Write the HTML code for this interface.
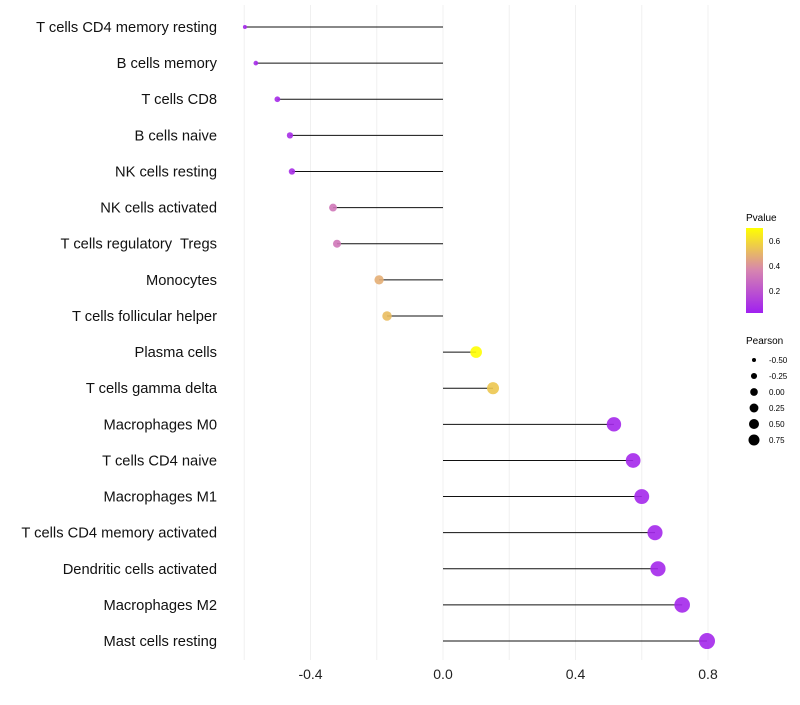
<!DOCTYPE html>
<html><head><meta charset="utf-8"><style>
body{margin:0;background:#fff;font-family:"Liberation Sans",sans-serif}
</style></head><body>
<svg id="c" width="800" height="700" xmlns="http://www.w3.org/2000/svg">
<defs><linearGradient id="pg" x1="0" y1="1" x2="0" y2="0">
<stop offset="0" stop-color="#A020F0"/><stop offset="0.5" stop-color="#D684B0"/><stop offset="1" stop-color="#FFFF00"/></linearGradient></defs>
<g id="grid"></g><g id="marks"></g><g id="labels"></g>
<g>
<text x="746" y="221" font-size="10">Pvalue</text>
<rect x="746" y="228" width="17" height="85" fill="url(#pg)"/>
<text x="769" y="244" font-size="8">0.6</text>
<text x="769" y="269" font-size="8">0.4</text>
<text x="769" y="294" font-size="8">0.2</text>
</g>
<g id="sizeleg">
<text x="746" y="344" font-size="10">Pearson</text>
</g>
</svg>
<script>
const categories=["T cells CD4 memory resting","B cells memory","T cells CD8","B cells naive","NK cells resting","NK cells activated","T cells regulatory  Tregs","Monocytes","T cells follicular helper","Plasma cells","T cells gamma delta","Macrophages M0","T cells CD4 naive","Macrophages M1","T cells CD4 memory activated","Dendritic cells activated","Macrophages M2","Mast cells resting"];
const pearson=[-0.598,-0.565,-0.50,-0.462,-0.456,-0.332,-0.32,-0.193,-0.169,0.10,0.151,0.516,0.574,0.60,0.64,0.649,0.722,0.797];
const pvalue=[0.05,0.06,0.06,0.07,0.07,0.32,0.32,0.48,0.52,0.70,0.55,0.05,0.05,0.05,0.05,0.05,0.05,0.05];
const xticks=[-0.4,0,0.4,0.8];
const xticklabels=["-0.4","0.0","0.4","0.8"];
const sizeTicks=[-0.5,-0.25,0,0.25,0.5,0.75];
const NS="http://www.w3.org/2000/svg";
const X=v=>443+v*331.25, Y=i=>27+i*36.12, R=v=>Math.sqrt(Math.max(1,4+42.9*(v+0.6)));
function hex(h){return [1,3,5].map(i=>parseInt(h.substr(i,2),16));}
function col(p){const t=Math.max(0,Math.min(1,(p-0.024)/0.68));const s=[hex("#A020F0"),hex("#D684B0"),hex("#FFFF00")];
 const a=t<0.5?s[0]:s[1],b=t<0.5?s[1]:s[2],u=t<0.5?t*2:(t-0.5)*2;
 return "rgb("+a.map((c,k)=>Math.round(c+(b[k]-c)*u)).join(",")+")";}
function mk(tag,at,par){const e=document.createElementNS(NS,tag);for(const k in at)e.setAttribute(k,at[k]);document.getElementById(par).appendChild(e);return e;}
[-0.6,-0.4,-0.2,0,0.2,0.4,0.6,0.8].forEach(v=>{const l=mk("line",{x1:X(v),x2:X(v),y1:5,y2:660,stroke:"#f0f0f0","stroke-width":1},"grid");

});
xticks.forEach((v,i)=>{const t=mk("text",{x:X(v),y:679,"font-size":14,"text-anchor":"middle",fill:"#222"},"labels");t.textContent=xticklabels[i];

});
categories.forEach((c,i)=>{
 const t=mk("text",{x:217,y:Y(i)+5,"font-size":14.7,"text-anchor":"end",fill:"#111",style:"white-space:pre"},"labels");t.textContent=c;
 
 
 const l=mk("line",{x1:X(0),x2:X(pearson[i]),y1:Y(i),y2:Y(i),stroke:"#111","stroke-width":1},"marks");
 
 
 const d=mk("circle",{cx:X(pearson[i]),cy:Y(i),r:R(pearson[i]),fill:col(pvalue[i]),opacity:0.9},"marks");
 
 
});
sizeTicks.forEach((v,i)=>{const y=360+i*16;
 const d=mk("circle",{cx:754,cy:y,r:R(v)*0.7,fill:"#000"},"sizeleg");
 
 
 const t=mk("text",{x:769,y:y+3,"font-size":8},"sizeleg");t.textContent=v.toFixed(2);
 
 });
</script>
</body></html>
